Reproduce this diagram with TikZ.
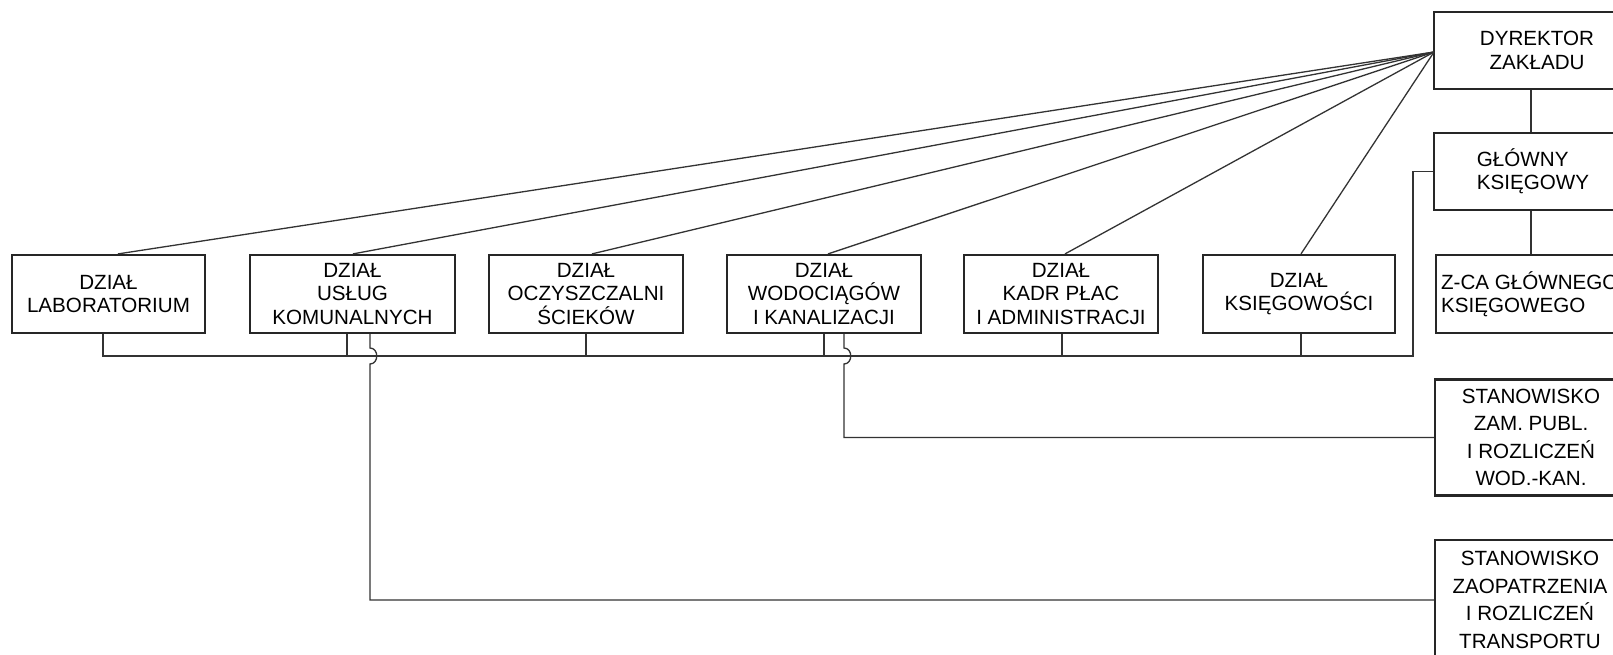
\documentclass[tikz,border=0pt]{standalone}
\usepackage{fontspec}
\setmainfont{Liberation Sans}
\begin{document}
\begin{tikzpicture}[x=0.5pt,y=-0.5pt,
  box/.style={draw=black!85,line width=1.1pt,inner sep=0pt,align=center,
    font=\fontsize{10.3}{11.6}\selectfont},
  tallbox/.style={box,font=\fontsize{10.3}{13.8}\selectfont},
  conn/.style={draw=black!80,line width=0.65pt}]
\useasboundingbox (0,0) rectangle (1613,654);
\clip (0,0) rectangle (1613,654);
% right column
\node[box,minimum width=103pt,minimum height=38.5pt] (dyr) at (1537,50.5) {DYREKTOR\\ZAKŁADU};
\node[box,align=left,minimum width=99pt,minimum height=38.5pt] (glo) at (1533,171.5) {GŁÓWNY\\KSIĘGOWY};
\node[box,align=left,anchor=west,minimum height=39pt,inner xsep=2.5pt] (zca) at (1435,294) {Z-CA GŁÓWNEGO\\KSIĘGOWEGO};
\node[tallbox,minimum width=96pt,minimum height=58pt] (zam) at (1531,437.5) {STANOWISKO\\ZAM. PUBL.\\I ROZLICZEŃ\\WOD.-KAN.};
\node[tallbox,minimum width=95pt,minimum height=60pt] (zaop) at (1530,600) {STANOWISKO\\ZAOPATRZENIA\\I ROZLICZEŃ\\TRANSPORTU};
% row of departments
\node[box,minimum width=96.5pt,minimum height=39pt] (lab) at (108.5,294) {DZIAŁ\\LABORATORIUM};
\node[box,minimum width=102.5pt,minimum height=39pt] (usl) at (352.5,294) {DZIAŁ\\USŁUG\\KOMUNALNYCH};
\node[box,minimum width=97pt,minimum height=39pt] (ocz) at (586,294) {DZIAŁ\\OCZYSZCZALNI\\ŚCIEKÓW};
\node[box,minimum width=97pt,minimum height=39pt] (wod) at (824,294) {DZIAŁ\\WODOCIĄGÓW\\I KANALIZACJI};
\node[box,minimum width=97pt,minimum height=39pt] (kad) at (1061,294) {DZIAŁ\\KADR PŁAC\\I ADMINISTRACJI};
\node[box,minimum width=96pt,minimum height=39pt] (ksi) at (1299,294) {DZIAŁ\\KSIĘGOWOŚCI};
% hub
\coordinate (hub) at (1434,52);
\draw[conn] (hub) -- ([xshift=4.75pt]lab.north);
\draw[conn] (hub) -- ([xshift=0.25pt]usl.north);
\draw[conn] (hub) -- ([xshift=3pt]ocz.north);
\draw[conn] (hub) -- ([xshift=2pt]wod.north);
\draw[conn] (hub) -- ([xshift=2pt]kad.north);
\draw[conn] (hub) -- ([xshift=1pt]ksi.north);
% vertical chain
\draw[conn] (dyr.south -| 1531,0) -- (glo.north -| 1531,0);
\draw[conn] (glo.south -| 1531,0) -- (zca.north -| 1531,0);
% bus
\coordinate (busL) at (103,356);
\coordinate (busR) at (1413,356);
\draw[conn] ([xshift=-2.75pt]lab.south) -- (busL) -- (busR) |- (glo.west);
\draw[conn] ([xshift=-2.75pt]usl.south) -- ([xshift=-2.75pt]usl.south |- busL);
\draw[conn] (ocz.south) -- (ocz.south |- busL);
\draw[conn] (wod.south) -- (wod.south |- busL);
\draw[conn] ([xshift=0.5pt]kad.south) -- ([xshift=0.5pt]kad.south |- busL);
\draw[conn] ([xshift=1pt]ksi.south) -- ([xshift=1pt]ksi.south |- busL);
% lines jumping over the bus
\coordinate (j1a) at (370,348);
\coordinate (j1b) at (370,364);
\draw[conn] (usl.south -| j1a) -- (j1a) .. controls (379,348) and (379,364) .. (j1b) |- (zaop.west);
\coordinate (j2a) at (844,348);
\coordinate (j2b) at (844,364);
\draw[conn] (wod.south -| j2a) -- (j2a) .. controls (853,348) and (853,364) .. (j2b) |- (zam.west);
\end{tikzpicture}
\end{document}
